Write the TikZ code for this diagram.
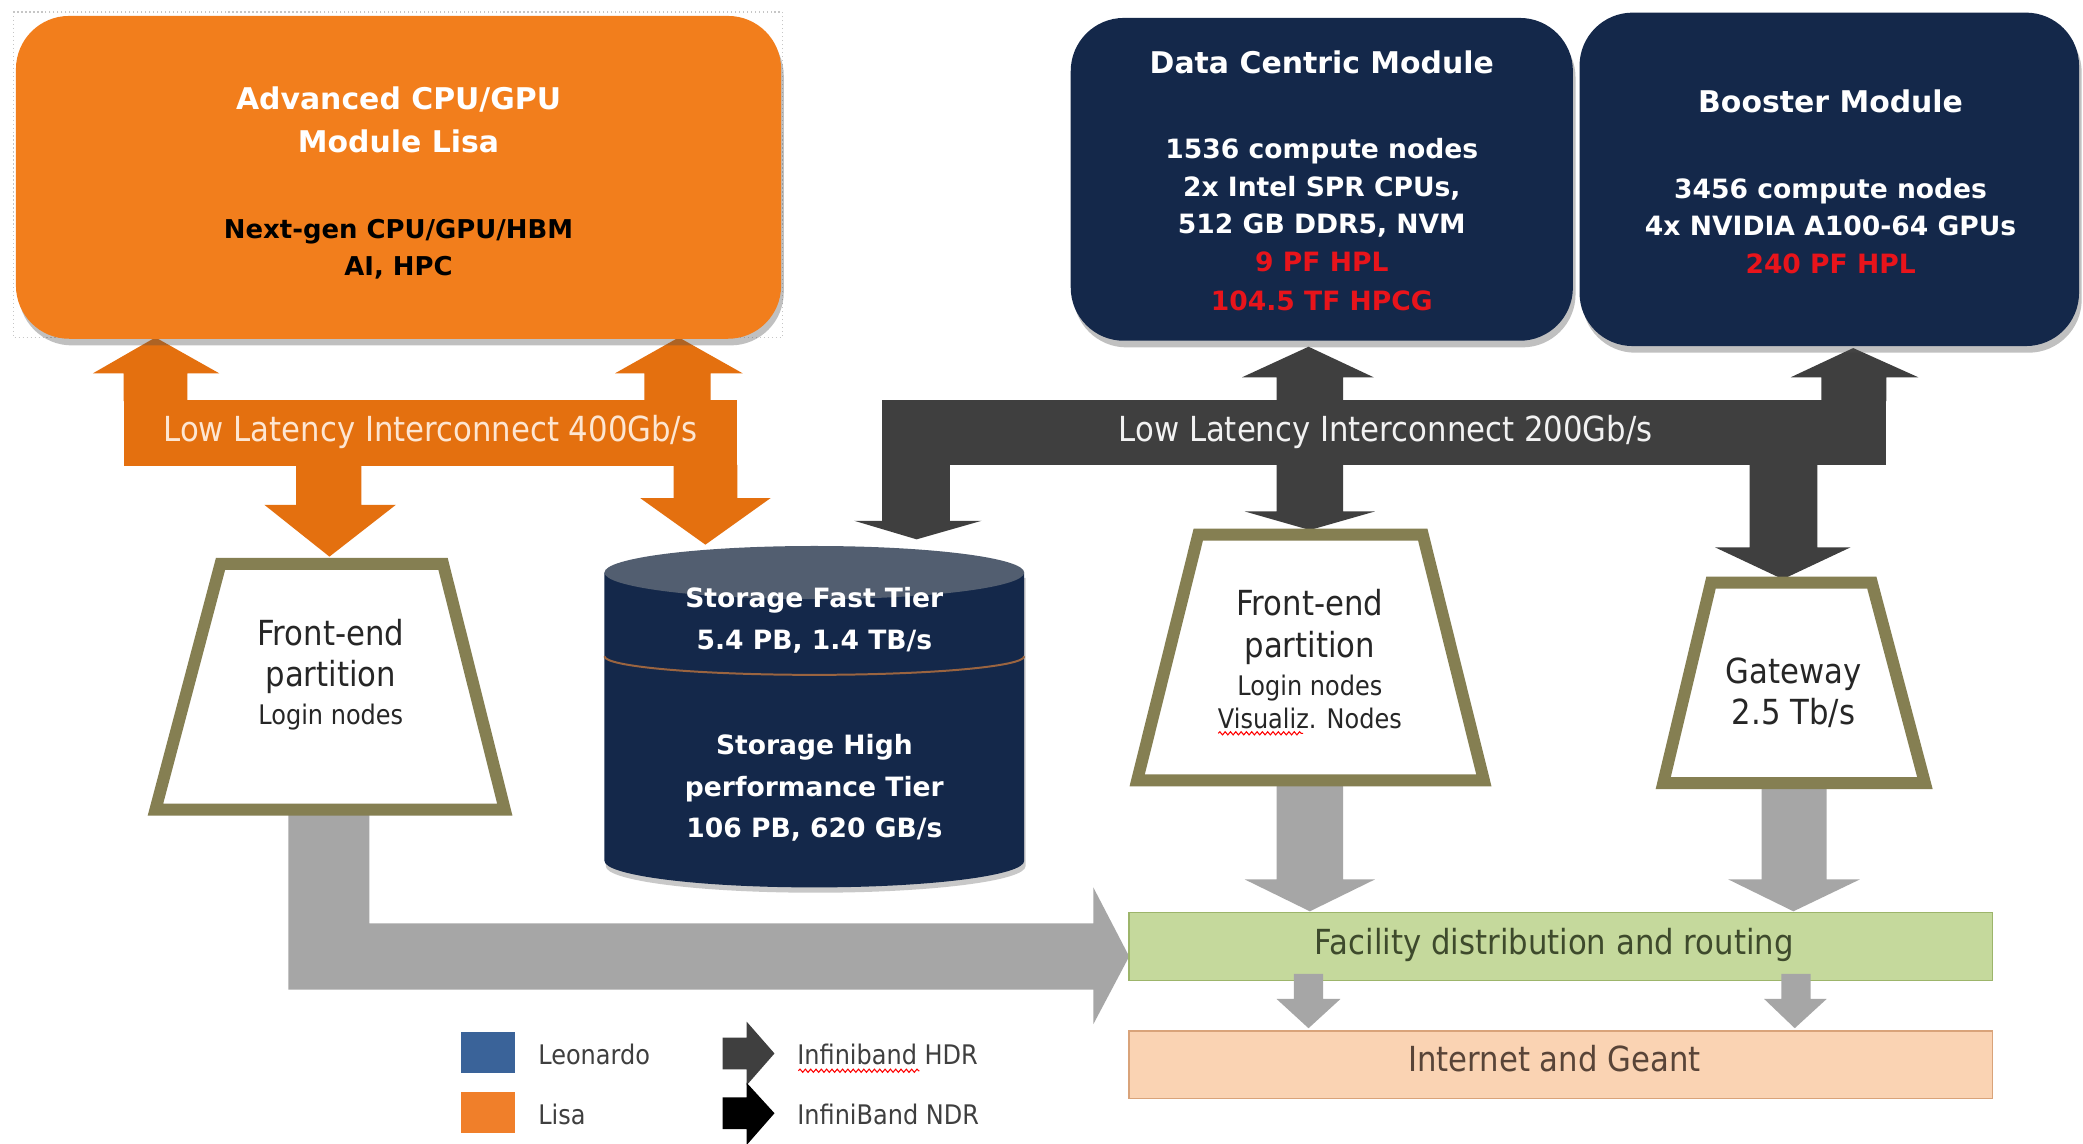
\documentclass[tikz,border=0pt]{standalone}
\usepackage{fontspec}
\setmainfont{DejaVu Sans}
\newfontfamily\condf[FakeStretch=0.89]{DejaVu Sans}
\usetikzlibrary{shadows,decorations.pathmorphing}
\definecolor{lisa}{HTML}{F27E1C}
\definecolor{lisaarrow}{HTML}{E4700F}
\definecolor{lisatxt}{HTML}{FDE6D2}
\definecolor{navy}{HTML}{14284A}
\definecolor{cyltop}{HTML}{525E70}
\definecolor{cylsep}{HTML}{9A6440}
\definecolor{hdr}{HTML}{3F3F3F}
\definecolor{lgrey}{HTML}{A6A6A6}
\definecolor{olive}{HTML}{857F52}
\definecolor{facil}{HTML}{C5D99C}
\definecolor{facilb}{HTML}{9DB56B}
\definecolor{faciltxt}{HTML}{3E4A2C}
\definecolor{inet}{HTML}{FAD3B3}
\definecolor{inetb}{HTML}{D9A37A}
\definecolor{inettxt}{HTML}{584438}
\definecolor{hplred}{HTML}{E8141B}
\definecolor{txtdark}{HTML}{262626}
\definecolor{leo}{HTML}{3A6399}
\definecolor{lisaleg}{HTML}{F07F2A}
\begin{document}
\begin{tikzpicture}[x=1pt,y=-1pt,
  tb/.style={inner sep=0pt, text height=0.73em, text depth=0pt, anchor=center, yshift=-5pt},
  wt/.style={tb, text=white, font=\fontsize{22.5}{27}\selectfont\bfseries},
  wb/.style={tb, text=white, font=\fontsize{20}{24}\selectfont\bfseries},
  bb/.style={tb, text=black, font=\fontsize{19.5}{24}\selectfont\bfseries},
  rb/.style={wb, text=hplred},
  reg/.style={tb, text=txtdark, font=\condf\fontsize{26}{31}\selectfont},
  sml/.style={tb, text=txtdark, font=\condf\fontsize{20.3}{24}\selectfont},
  modbox/.style={rounded corners=40pt, inner sep=0pt,
     drop shadow={shadow xshift=2pt, shadow yshift=-5pt, opacity=0.35, fill=black!70}},
  trap/.style={draw=olive, line width=9pt, fill=white, line join=miter},
  band/.style={inner sep=0pt, line width=1.2pt, minimum width=650pt, minimum height=51pt},
  squig/.style={draw=red, line width=0.8pt, decorate, decoration={snake, amplitude=1.2pt, segment length=4pt}}
]
\useasboundingbox (0,0) rectangle (1568,861);
\fill[white] (0,0) rectangle (1568,861);

% ---------- orange interconnect (Lisa) ----------
\fill[lisaarrow] (93,301) rectangle (555,351);
\fill[lisaarrow] (93,302) -- (93,281) -- (70,281) -- (117,254) -- (165,281) -- (141,281) -- (141,302) -- cycle;
\fill[lisaarrow] (485,302) -- (485,281) -- (463,281) -- (511,254) -- (559,281) -- (535,281) -- (535,302) -- cycle;
\fill[lisaarrow] (223,350) -- (223,380) -- (199,380) -- (248,419) -- (298,380) -- (272,380) -- (272,350) -- cycle;
\fill[lisaarrow] (507,350) -- (507,375) -- (482,375) -- (531,410) -- (580,375) -- (555,375) -- (555,350) -- cycle;
\node[tb, text=lisatxt, font=\condf\fontsize{26}{31}\selectfont] (ll400) at (324,324) {Low Latency Interconnect 400Gb/s};

% ---------- dark interconnect (HDR) ----------
\fill[hdr] (664,301) rectangle (1420,350);
\fill[hdr] (664,349) -- (664,392) -- (643,392) -- (690,406) -- (739,392) -- (715,392) -- (715,349) -- cycle;
\fill[hdr] (961,302) -- (961,284) -- (935,284) -- (985,261) -- (1034,284) -- (1011,284) -- (1011,302) -- cycle;
\fill[hdr] (961,349) -- (961,385) -- (937,385) -- (986,399) -- (1035,385) -- (1011,385) -- (1011,349) -- cycle;
\fill[hdr] (1371,302) -- (1371,284) -- (1348,284) -- (1395,262) -- (1444,284) -- (1420,284) -- (1420,302) -- cycle;
\fill[hdr] (1317,349) -- (1317,412) -- (1291,412) -- (1342,436) -- (1393,412) -- (1368,412) -- (1368,349) -- cycle;
\node[tb, text=white!95!black, font=\condf\fontsize{26}{31}\selectfont] (ll200) at (1043,324) {Low Latency Interconnect 200Gb/s};

% ---------- module boxes ----------
\draw[gray!45, dotted, line width=1pt] (10,9) rectangle (589,254);
\node[modbox, fill=lisa, minimum width=576pt, minimum height=243pt] (lisabox) at (300,133.5) {};
\node[wt] (lisa1) at (300,74) {Advanced CPU/GPU};
\node[wt] (lisa2) at (300,106) {Module Lisa};
\node[bb] (lisa3) at (300,171) {Next-gen CPU/GPU/HBM};
\node[bb] (lisa4) at (300,199) {AI, HPC};

\node[modbox, fill=navy, minimum width=378pt, minimum height=243pt] (dcm) at (995,135) {};
\node[wt] (dcm1) at (995,47) {Data Centric Module};
\node[wb] (dcm2) at (995,111) {1536 compute nodes};
\node[wb] (dcm3) at (995,139) {2x Intel SPR CPUs,};
\node[wb] (dcm4) at (995,167) {512 GB DDR5, NVM};
\node[rb] (dcm5) at (995,196) {9 PF HPL};
\node[rb] (dcm6) at (995,225) {104.5 TF HPCG};

\node[modbox, fill=navy, minimum width=376pt, minimum height=251pt] (boost) at (1377,135) {};
\node[wt] (boost1) at (1378,76) {Booster Module};
\node[wb] (boost2) at (1378,141) {3456 compute nodes};
\node[wb] (boost3) at (1378,169) {4x NVIDIA A100-64 GPUs};
\node[rb] (boost4) at (1378,197) {240 PF HPL};

% ---------- grey routing arrows ----------
\fill[lgrey] (217,605) -- (217,745) -- (823,745) -- (823,771) -- (850,720) -- (823,668) -- (823,695) -- (278,695) -- (278,605) -- cycle;
\fill[lgrey] (961,588) -- (961,662) -- (937,662) -- (986,686) -- (1035,662) -- (1011,662) -- (1011,588) -- cycle;
\fill[lgrey] (1326,588) -- (1326,662) -- (1301,662) -- (1350,686) -- (1400,662) -- (1375,662) -- (1375,588) -- cycle;

% ---------- storage cylinder ----------
\fill[navy, drop shadow={shadow xshift=1pt, shadow yshift=-4pt, opacity=0.3, fill=black!70}]
  (455,431) -- (455,648) arc[start angle=180, end angle=0, x radius=158, y radius=20] -- (771,431) -- cycle;
\fill[cyltop] (613,431) ellipse[x radius=158, y radius=20];
\draw[cylsep, line width=1.5pt] (455,494) arc[start angle=180, end angle=0, x radius=158, y radius=14];
\node[wb] (st1) at (613,449) {Storage Fast Tier};
\node[wb] (st2) at (613,480) {5.4 PB, 1.4 TB/s};
\node[wb] (st3) at (613,559) {Storage High};
\node[wb] (st4) at (613,591) {performance Tier};
\node[wb] (st5) at (613,622) {106 PB, 620 GB/s};

% ---------- trapezoids ----------
\draw[trap] (166,424.5) -- (333.5,424.5) -- (380,609.5) -- (117,609.5) -- cycle;
\node[reg] (fe1a) at (249,477) {Front-end};
\node[reg] (fe1b) at (249,508) {partition};
\node[sml] (fe1c) at (249,537) {Login nodes};

\draw[trap] (902,402.5) -- (1071,402.5) -- (1117,587.5) -- (856,587.5) -- cycle;
\node[reg] (fe2a) at (986,455) {Front-end};
\node[reg] (fe2b) at (986,486) {partition};
\node[sml] (fe2c) at (986,515) {Login nodes};
\node[sml] (fe2d) at (986,540) {Visualiz. Nodes};
\draw[squig] (917,552) -- (981,552);

\draw[trap] (1288,438.5) -- (1409,438.5) -- (1449,589.5) -- (1252,589.5) -- cycle;
\node[reg] (gw1) at (1350,506) {Gateway};
\node[reg] (gw2) at (1350,537) {2.5 Tb/s};

% ---------- facility / internet ----------
\node[band, draw=facilb, fill=facil] (fac) at (1175,712.5) {};
\node[tb, text=faciltxt, font=\condf\fontsize{26}{31}\selectfont] (factxt) at (1170,710) {Facility distribution and routing};
\node[band, draw=inetb, fill=inet] (inet) at (1175,801.5) {};
\node[tb, text=inettxt, font=\condf\fontsize{26}{31}\selectfont] (inettxt) at (1170,798) {Internet and Geant};
\fill[lgrey] (974,733) -- (974,752) -- (961,752) -- (985,774) -- (1009,752) -- (996,752) -- (996,733) -- cycle;
\fill[lgrey] (1341,733) -- (1341,752) -- (1328,752) -- (1351,774) -- (1375,752) -- (1363,752) -- (1363,733) -- cycle;

% ---------- legend ----------
\node[fill=leo, minimum width=41pt, minimum height=31pt, inner sep=0pt] (legleo) at (367.5,792.5) {};
\node[fill=lisaleg, minimum width=41pt, minimum height=31pt, inner sep=0pt] (leglisa) at (367.5,837.5) {};
\node[sml, anchor=west, text=hdr] (legleot) at (405,793) {Leonardo};
\node[sml, anchor=west, text=hdr] (leglisat) at (405,838) {Lisa};
\fill[hdr] (544,781) -- (562,781) -- (562,769) -- (583,793) -- (562,817) -- (562,805) -- (544,805) -- cycle;
\fill[black] (544,826) -- (562,826) -- (562,815) -- (583,838) -- (562,862) -- (562,850) -- (544,850) -- cycle;
\node[sml, anchor=west, text=hdr] (leghdr) at (600,793) {Infiniband HDR};
\node[sml, anchor=west, text=hdr] (legndr) at (600,838) {InfiniBand NDR};
\draw[squig] (601,806) -- (692,806);
\end{tikzpicture}
\end{document}
